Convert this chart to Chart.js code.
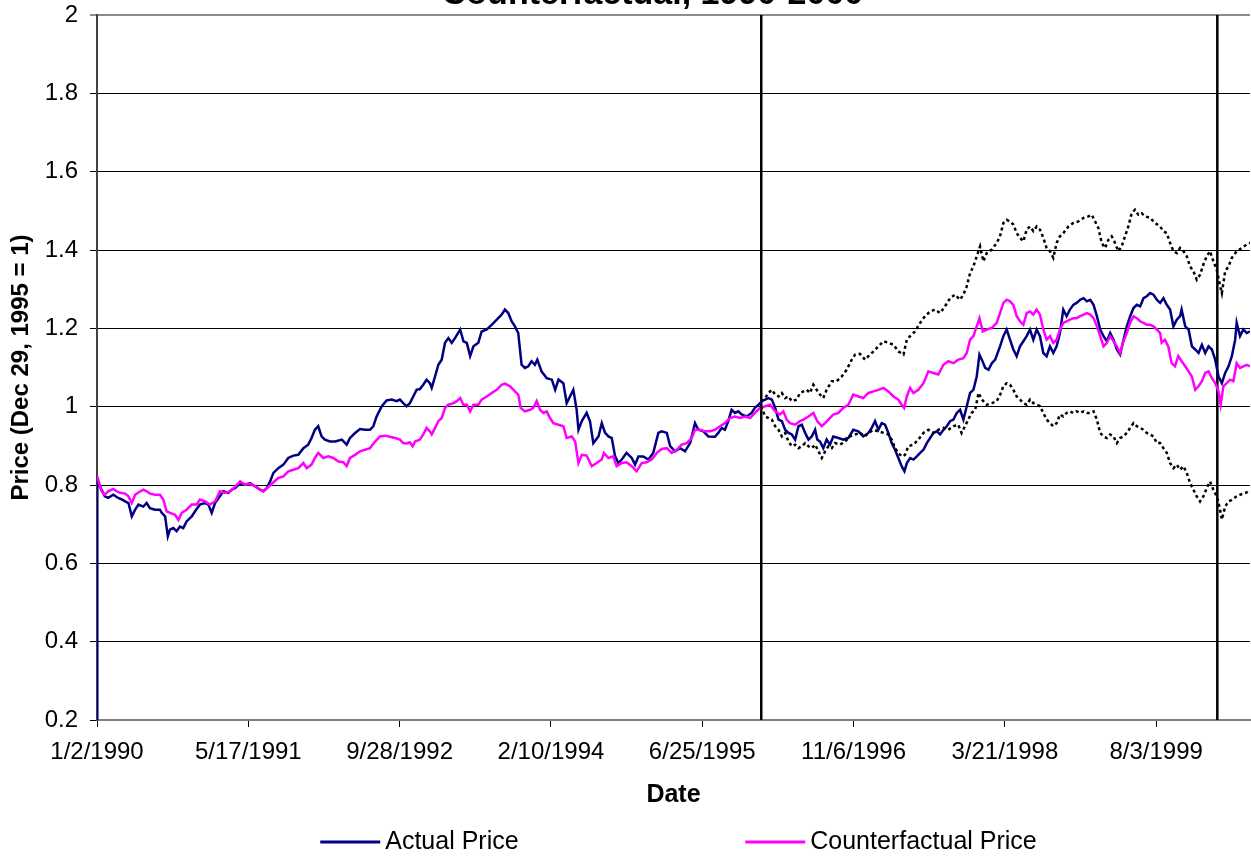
<!DOCTYPE html>
<html><head><meta charset="utf-8">
<script src="https://cdn.jsdelivr.net/npm/chart.js@4.4.1/dist/chart.umd.min.js"></script>
<style>html,body{margin:0;padding:0;background:#fff;overflow:hidden}#wrap{position:absolute;left:0;top:0;width:1251px;height:858px}</style>
</head><body><div id="wrap"><canvas id="c" width="1251" height="858"></canvas></div>
<script>
// x values are days since 1/2/1990
const titleText = 'Counterfactual, 1990-2000';
const xTitle = 'Date';
const yTitle = 'Price (Dec 29, 1995 = 1)';
const tickDays = [0, 500, 1000, 1500, 2000, 2500, 3000, 3500];
const tickLabels = ['1/2/1990', '5/17/1991', '9/28/1992', '2/10/1994', '6/25/1995', '11/6/1996', '3/21/1998', '8/3/1999'];
const xMaxDay = 3810;
const eventDays = [2195, 3702];

const actualDays = [0,1,4,26,37,54,70,82,93,104,115,126,137,153,164,175,192,208,214,225,234,241,252,263,274,285,296,313,324,340,357,368,379,390,406,417,434,445,456,473,489,506,522,539,550,561,572,583,599,616,632,649,665,682,698,709,720,731,742,753,770,787,809,825,836,853,869,886,902,913,924,941,957,974,990,1001,1012,1023,1034,1045,1056,1067,1078,1089,1100,1106,1117,1128,1139,1150,1161,1172,1183,1200,1211,1222,1233,1244,1260,1271,1288,1304,1321,1337,1348,1359,1370,1381,1392,1403,1414,1425,1436,1447,1455,1469,1486,1503,1514,1525,1541,1552,1563,1574,1585,1591,1602,1618,1629,1640,1657,1668,1679,1690,1701,1712,1723,1734,1750,1767,1778,1789,1805,1822,1838,1855,1866,1883,1894,1910,1927,1943,1960,1976,1987,2004,2020,2042,2053,2064,2075,2086,2097,2108,2119,2130,2147,2163,2174,2186,2197,2208,2219,2230,2241,2252,2263,2274,2285,2296,2307,2318,2329,2340,2351,2362,2373,2380,2389,2400,2411,2422,2433,2450,2466,2483,2499,2516,2532,2549,2560,2571,2582,2593,2604,2615,2626,2637,2648,2659,2668,2676,2687,2698,2709,2720,2731,2742,2753,2764,2775,2786,2797,2808,2819,2830,2841,2852,2863,2874,2885,2896,2907,2916,2924,2935,2946,2957,2968,2984,2995,3006,3017,3028,3039,3050,3061,3072,3083,3094,3105,3116,3127,3138,3149,3160,3171,3182,3193,3204,3215,3226,3237,3249,3260,3271,3282,3293,3304,3315,3326,3337,3348,3359,3370,3381,3392,3403,3414,3425,3436,3447,3458,3469,3480,3491,3502,3513,3524,3535,3546,3557,3568,3579,3584,3596,3607,3618,3629,3640,3651,3662,3673,3684,3695,3706,3717,3728,3739,3750,3761,3766,3777,3788,3799,3810];
const actualPrice = [0,0.818,0.805,0.771,0.767,0.775,0.767,0.763,0.758,0.754,0.720,0.737,0.750,0.745,0.754,0.741,0.737,0.737,0.729,0.720,0.669,0.686,0.690,0.682,0.694,0.690,0.707,0.720,0.733,0.750,0.754,0.750,0.729,0.754,0.771,0.784,0.780,0.788,0.792,0.805,0.801,0.805,0.797,0.788,0.784,0.792,0.809,0.831,0.843,0.852,0.869,0.875,0.877,0.894,0.903,0.920,0.941,0.950,0.924,0.916,0.911,0.911,0.916,0.903,0.920,0.933,0.943,0.941,0.941,0.950,0.975,1.001,1.016,1.018,1.014,1.018,1.009,1.001,1.009,1.026,1.043,1.045,1.056,1.069,1.060,1.048,1.077,1.107,1.120,1.163,1.175,1.163,1.175,1.197,1.167,1.163,1.129,1.154,1.163,1.192,1.197,1.209,1.222,1.235,1.248,1.239,1.218,1.205,1.188,1.107,1.099,1.103,1.116,1.107,1.120,1.090,1.073,1.069,1.043,1.069,1.060,1.009,1.026,1.043,0.992,0.941,0.963,0.984,0.963,0.907,0.924,0.958,0.933,0.924,0.920,0.873,0.856,0.865,0.882,0.869,0.852,0.873,0.873,0.865,0.882,0.933,0.937,0.933,0.899,0.886,0.894,0.886,0.907,0.958,0.941,0.937,0.924,0.923,0.933,0.946,0.941,0.963,0.992,0.984,0.988,0.980,0.975,0.984,0.997,1.005,1.014,1.018,1.022,1.018,0.997,0.967,0.963,0.941,0.933,0.929,0.916,0.950,0.954,0.933,0.916,0.924,0.941,0.916,0.911,0.894,0.916,0.903,0.924,0.920,0.916,0.920,0.941,0.937,0.924,0.933,0.946,0.963,0.941,0.958,0.954,0.933,0.907,0.890,0.869,0.848,0.835,0.856,0.869,0.865,0.873,0.882,0.890,0.907,0.920,0.933,0.937,0.929,0.941,0.950,0.963,0.967,0.984,0.992,0.967,1.001,1.035,1.043,1.077,1.133,1.120,1.099,1.094,1.111,1.120,1.154,1.180,1.197,1.171,1.146,1.129,1.154,1.167,1.180,1.197,1.171,1.197,1.180,1.137,1.129,1.154,1.137,1.154,1.188,1.248,1.231,1.248,1.260,1.265,1.273,1.277,1.269,1.273,1.260,1.231,1.197,1.180,1.167,1.188,1.171,1.146,1.133,1.171,1.205,1.231,1.252,1.260,1.256,1.277,1.282,1.290,1.286,1.273,1.265,1.277,1.260,1.248,1.205,1.222,1.231,1.248,1.205,1.197,1.154,1.146,1.137,1.158,1.137,1.154,1.146,1.120,1.077,1.060,1.086,1.103,1.129,1.171,1.214,1.180,1.197,1.188,1.192];

const cfDays = [1,15,26,37,54,65,76,93,104,115,126,137,153,164,175,192,208,219,230,241,258,269,280,296,313,329,340,357,373,390,406,423,440,456,473,489,506,522,539,550,566,583,599,616,632,649,665,682,693,709,720,731,748,764,781,798,814,825,836,853,869,886,902,919,935,952,968,985,1001,1012,1023,1034,1043,1051,1067,1078,1089,1100,1106,1117,1128,1139,1150,1161,1178,1189,1200,1211,1222,1233,1244,1260,1271,1288,1304,1321,1337,1348,1365,1381,1392,1400,1414,1431,1442,1453,1464,1475,1486,1497,1508,1525,1541,1552,1569,1580,1591,1602,1618,1635,1651,1668,1675,1690,1706,1717,1734,1750,1767,1783,1800,1816,1833,1850,1866,1883,1899,1916,1932,1949,1965,1976,1993,2009,2026,2042,2059,2075,2092,2108,2125,2141,2158,2174,2191,2208,2224,2241,2257,2268,2279,2290,2307,2323,2334,2351,2367,2380,2395,2406,2417,2433,2450,2466,2483,2499,2516,2532,2549,2566,2582,2599,2615,2632,2648,2659,2667,2676,2687,2698,2714,2731,2747,2764,2780,2797,2813,2830,2846,2863,2874,2885,2896,2907,2916,2927,2940,2957,2973,2984,2995,3006,3017,3028,3039,3050,3061,3072,3083,3094,3105,3116,3127,3138,3149,3160,3171,3182,3193,3204,3215,3226,3237,3249,3260,3271,3282,3293,3304,3315,3326,3337,3348,3359,3370,3381,3392,3403,3414,3425,3436,3447,3458,3469,3480,3491,3502,3513,3518,3529,3540,3551,3562,3573,3584,3596,3607,3618,3629,3640,3651,3662,3673,3684,3695,3706,3713,3722,3733,3744,3755,3766,3777,3788,3799,3810];
const cfPrice = [0.822,0.784,0.775,0.784,0.790,0.784,0.780,0.778,0.771,0.754,0.775,0.781,0.788,0.784,0.778,0.775,0.775,0.763,0.733,0.729,0.724,0.711,0.729,0.737,0.750,0.750,0.763,0.758,0.750,0.758,0.784,0.780,0.784,0.795,0.809,0.801,0.803,0.797,0.788,0.784,0.795,0.807,0.818,0.822,0.835,0.839,0.843,0.856,0.843,0.852,0.869,0.882,0.869,0.873,0.869,0.860,0.858,0.848,0.869,0.877,0.886,0.890,0.894,0.911,0.924,0.926,0.923,0.920,0.916,0.907,0.906,0.909,0.899,0.911,0.916,0.929,0.946,0.937,0.929,0.946,0.963,0.971,0.997,1.005,1.009,1.014,1.022,1.005,1.005,0.988,1.005,1.005,1.018,1.026,1.035,1.043,1.056,1.059,1.052,1.039,1.031,0.997,0.988,0.992,0.997,1.014,0.992,0.984,0.988,0.971,0.958,0.954,0.950,0.920,0.924,0.911,0.856,0.877,0.875,0.848,0.856,0.865,0.882,0.869,0.873,0.848,0.856,0.858,0.848,0.835,0.856,0.858,0.865,0.882,0.892,0.894,0.882,0.890,0.903,0.907,0.920,0.941,0.941,0.937,0.937,0.941,0.950,0.958,0.971,0.975,0.971,0.975,0.971,0.984,0.997,1.001,1.005,0.988,0.980,0.988,0.967,0.958,0.954,0.963,0.967,0.975,0.984,0.963,0.950,0.958,0.967,0.980,0.984,0.997,1.005,1.031,1.026,1.022,1.035,1.039,1.043,1.048,1.039,1.026,1.018,1.005,0.997,1.026,1.048,1.035,1.043,1.060,1.090,1.086,1.082,1.107,1.116,1.111,1.120,1.124,1.137,1.171,1.180,1.205,1.226,1.192,1.197,1.201,1.214,1.239,1.265,1.273,1.269,1.260,1.231,1.218,1.209,1.239,1.243,1.235,1.248,1.235,1.197,1.171,1.180,1.163,1.171,1.197,1.214,1.218,1.222,1.226,1.226,1.231,1.235,1.239,1.235,1.226,1.205,1.180,1.154,1.163,1.180,1.167,1.154,1.137,1.167,1.188,1.214,1.231,1.226,1.218,1.214,1.209,1.209,1.205,1.197,1.188,1.163,1.171,1.154,1.111,1.103,1.129,1.116,1.103,1.090,1.077,1.043,1.052,1.065,1.086,1.090,1.073,1.060,1.039,1.005,1.052,1.060,1.069,1.065,1.111,1.099,1.103,1.107,1.103];

const upperDays = [2194,2208,2219,2230,2241,2252,2263,2274,2285,2296,2312,2323,2334,2345,2356,2367,2378,2389,2400,2411,2428,2444,2461,2477,2494,2505,2521,2538,2549,2566,2582,2599,2615,2632,2648,2665,2676,2687,2703,2720,2736,2753,2769,2786,2802,2819,2835,2852,2863,2874,2885,2896,2907,2918,2929,2940,2957,2973,2984,2995,3006,3017,3028,3039,3050,3061,3072,3083,3094,3105,3116,3127,3138,3149,3160,3171,3182,3193,3210,3226,3243,3260,3276,3287,3298,3309,3320,3331,3342,3353,3364,3375,3386,3397,3408,3419,3430,3441,3452,3463,3480,3496,3513,3524,3535,3546,3557,3568,3579,3590,3601,3612,3623,3634,3645,3656,3667,3678,3689,3700,3709,3717,3728,3739,3750,3766,3783,3799,3810];
const upperBand = [1.014,1.022,1.035,1.043,1.031,1.026,1.035,1.022,1.026,1.014,1.018,1.035,1.039,1.043,1.035,1.056,1.043,1.031,1.022,1.043,1.065,1.065,1.077,1.094,1.120,1.133,1.135,1.120,1.129,1.141,1.154,1.167,1.163,1.158,1.141,1.133,1.171,1.180,1.192,1.214,1.231,1.243,1.248,1.239,1.256,1.277,1.286,1.273,1.286,1.307,1.341,1.358,1.384,1.409,1.371,1.392,1.401,1.418,1.435,1.469,1.477,1.473,1.465,1.443,1.431,1.422,1.452,1.460,1.448,1.460,1.452,1.431,1.405,1.397,1.380,1.418,1.435,1.443,1.460,1.469,1.473,1.482,1.486,1.490,1.473,1.456,1.418,1.405,1.426,1.435,1.418,1.397,1.409,1.435,1.460,1.494,1.503,1.490,1.494,1.486,1.482,1.469,1.460,1.448,1.443,1.418,1.397,1.392,1.405,1.397,1.384,1.358,1.346,1.324,1.337,1.363,1.384,1.397,1.371,1.350,1.316,1.290,1.346,1.358,1.380,1.397,1.405,1.414,1.418];

const lowerDays = [2194,2208,2219,2230,2241,2252,2263,2274,2285,2296,2307,2318,2329,2340,2351,2362,2373,2384,2395,2406,2417,2428,2439,2455,2472,2488,2505,2521,2538,2549,2566,2582,2599,2615,2626,2637,2648,2659,2670,2681,2698,2714,2731,2747,2764,2780,2797,2813,2830,2846,2857,2868,2879,2890,2902,2913,2924,2940,2957,2973,2984,2995,3006,3017,3028,3039,3050,3061,3072,3083,3094,3105,3116,3127,3138,3149,3160,3171,3182,3193,3204,3215,3226,3237,3249,3260,3271,3282,3293,3304,3315,3326,3337,3348,3359,3370,3381,3392,3403,3414,3425,3436,3447,3458,3469,3480,3491,3502,3513,3524,3535,3546,3557,3568,3579,3590,3601,3612,3623,3634,3645,3656,3667,3678,3689,3700,3709,3717,3728,3739,3750,3766,3783,3799,3810];
const lowerBand = [1.001,0.975,0.971,0.967,0.950,0.941,0.924,0.933,0.911,0.899,0.903,0.894,0.899,0.907,0.899,0.894,0.903,0.886,0.869,0.886,0.899,0.894,0.907,0.903,0.911,0.924,0.929,0.933,0.924,0.933,0.941,0.937,0.933,0.929,0.916,0.894,0.882,0.873,0.877,0.899,0.903,0.916,0.933,0.941,0.933,0.941,0.946,0.941,0.950,0.954,0.933,0.950,0.967,0.984,0.992,1.035,1.018,1.005,1.009,1.014,1.030,1.052,1.060,1.056,1.043,1.026,1.018,1.009,1.005,1.018,1.009,1.005,1.001,0.984,0.967,0.958,0.950,0.958,0.980,0.975,0.984,0.988,0.984,0.988,0.984,0.988,0.984,0.984,0.988,0.967,0.933,0.924,0.920,0.929,0.924,0.907,0.920,0.924,0.933,0.946,0.958,0.950,0.946,0.941,0.933,0.929,0.924,0.907,0.907,0.894,0.882,0.856,0.843,0.852,0.839,0.848,0.831,0.805,0.788,0.771,0.758,0.771,0.792,0.809,0.788,0.771,0.745,0.712,0.745,0.758,0.762,0.771,0.777,0.781,0.786];

const legendItems = [
  { label: 'Actual Price', color: '#000080' },
  { label: 'Counterfactual Price', color: '#FF00FF' }
];

const FONT = "'Liberation Sans', Arial, Helvetica, sans-serif";
function pts(d, v) { return d.map((x, i) => ({ x: x, y: v[i] })); }

const eventSets = eventDays.map(d => ({
  label: 'event', data: [{ x: d, y: 0.2 }, { x: d, y: 2 }],
  borderColor: '#000', borderWidth: 2.5, pointRadius: 0, order: 9
}));

const titlePlugin = {
  id: 'cutTitle',
  afterDraw(chart) {
    const ctx = chart.ctx, ca = chart.chartArea;
    ctx.save();
    ctx.font = 'bold 34px ' + FONT;
    ctx.fillStyle = '#000';
    ctx.textAlign = 'center';
    ctx.textBaseline = 'alphabetic';
    ctx.fillText(titleText, (ca.left + ca.right) / 2 - 21, 4);
    ctx.restore();
  }
};

const legendPlugin = {
  id: 'wideLegend',
  afterDraw(chart) {
    const ctx = chart.ctx, ca = chart.chartArea;
    const cx = (ca.left + ca.right) / 2 + 5;
    const colW = 425, lineLen = 60, gap = 5;
    ctx.save();
    ctx.font = '25px ' + FONT;
    const last = legendItems[legendItems.length - 1];
    const total = colW * (legendItems.length - 1) + lineLen + gap + ctx.measureText(last.label).width;
    let x = cx - total / 2;
    const y = chart.height - 16;
    legendItems.forEach(it => {
      ctx.strokeStyle = it.color; ctx.lineWidth = 3;
      ctx.beginPath(); ctx.moveTo(x, y); ctx.lineTo(x + lineLen, y); ctx.stroke();
      ctx.fillStyle = '#000'; ctx.textAlign = 'left'; ctx.textBaseline = 'middle';
      ctx.fillText(it.label, x + lineLen + gap, y);
      x += colW;
    });
    ctx.restore();
  }
};

new Chart(document.getElementById('c'), {
  type: 'line',
  data: {
    datasets: [
      ...eventSets,
      { label: 'Actual Price', data: pts(actualDays, actualPrice), borderColor: '#000080', borderWidth: 2.5, pointRadius: 0, order: 4 },
      { label: 'Counterfactual Price', data: pts(cfDays, cfPrice), borderColor: '#FF00FF', borderWidth: 2.5, pointRadius: 0, order: 3 },
      { label: 'Upper', data: pts(upperDays, upperBand), borderColor: '#000', borderWidth: 2.5, borderDash: [3, 3], pointRadius: 0, order: 2 },
      { label: 'Lower', data: pts(lowerDays, lowerBand), borderColor: '#000', borderWidth: 2.5, borderDash: [3, 3], pointRadius: 0, order: 1 }
    ]
  },
  options: {
    responsive: false,
    devicePixelRatio: 1,
    animation: false,
    layout: { padding: { top: 15, left: 0, right: 1, bottom: 38 } },
    plugins: { legend: { display: false }, tooltip: { enabled: false }, title: { display: false } },
    elements: { line: { tension: 0 } },
    scales: {
      x: {
        type: 'linear', min: 0, max: xMaxDay,
        afterBuildTicks: s => { s.ticks = tickDays.map(v => ({ value: v })); },
        afterFit: s => { s.height = 100; s.paddingLeft = 0; s.paddingRight = 0; },
        ticks: { callback: (v, i) => tickLabels[i], font: { family: FONT, size: 24 }, color: '#000', padding: 11, maxRotation: 0, autoSkip: false },
        grid: { drawOnChartArea: false, drawTicks: true, tickLength: 7, color: '#000', lineWidth: 1 },
        border: { display: true, color: '#808080', width: 2 },
        title: { display: true, text: xTitle, font: { family: FONT, size: 25, weight: 'bold' }, color: '#000', padding: { top: 0, bottom: 10 } }
      },
      y: {
        min: 0.2, max: 2,
        afterFit: s => { s.width = 97; s.paddingTop = 0; s.paddingBottom = 0; },
        ticks: { stepSize: 0.2, callback: v => String(Math.round(v * 10) / 10), font: { family: FONT, size: 24 }, color: '#000', padding: 12 },
        grid: {
          color: c => (c.tick && Math.abs(c.tick.value - 2) < 1e-6) ? '#8c8c8c' : '#000',
          lineWidth: c => (c.tick && Math.abs(c.tick.value - 2) < 1e-6) ? 2 : 1,
          tickLength: 7
        },
        border: { display: true, color: '#404040', width: 2 },
        title: { display: true, text: yTitle, font: { family: FONT, size: 24, weight: 'bold' }, color: '#000', padding: { top: 7, bottom: 0 } }
      }
    }
  },
  plugins: [titlePlugin, legendPlugin]
});
</script>
</body></html>
